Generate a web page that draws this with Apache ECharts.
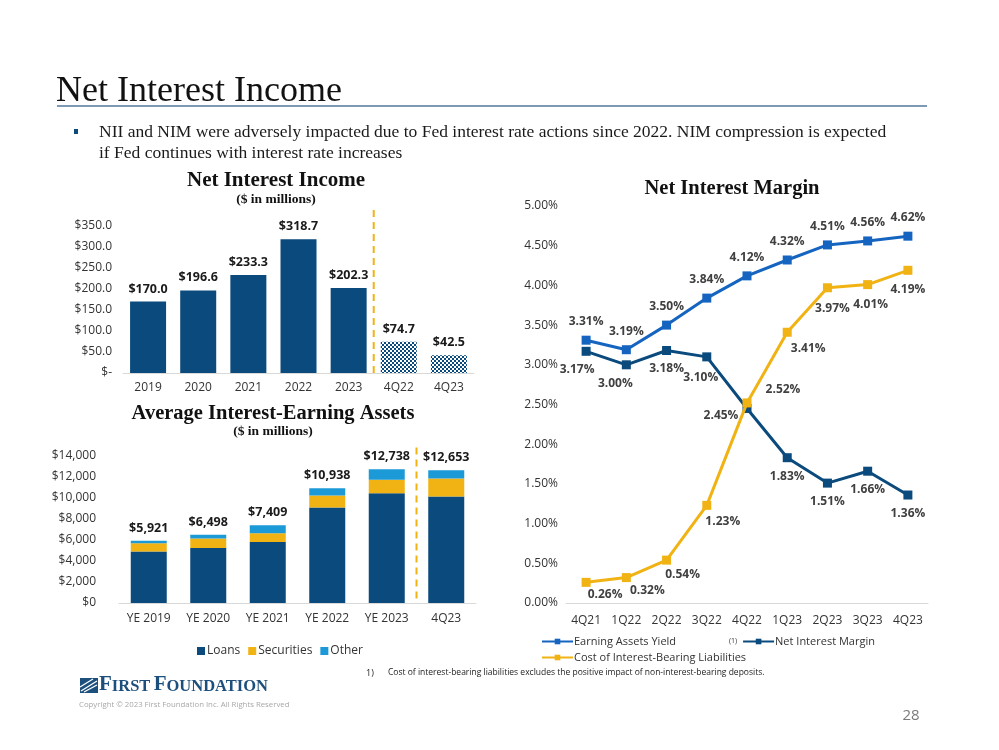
<!DOCTYPE html>
<html><head><meta charset="utf-8">
<script src="https://cdn.jsdelivr.net/npm/echarts@6/dist/echarts.min.js"></script>
<style>html,body{margin:0;padding:0;background:#fff}#c{width:999px;height:750px}</style>
</head><body><div id="c"></div>
<script>
// ---- data ----
const niiCategories = ['2019','2020','2021','2022','2023','4Q22','4Q23'];
const niiValues = [170.0, 196.6, 233.3, 318.7, 202.3, 74.7, 42.5];
const niiTicks = ['$-','$50.0','$100.0','$150.0','$200.0','$250.0','$300.0','$350.0'];

const aieaCategories = ['YE 2019','YE 2020','YE 2021','YE 2022','YE 2023','4Q23'];
const loans = [4900, 5250, 5800, 9100, 10450, 10150];
const securities = [800, 900, 850, 1150, 1300, 1700];
const other = [221, 348, 759, 688, 988, 803];
const aieaTotals = [5921, 6498, 7409, 10938, 12738, 12653];

const nimCategories = ['4Q21','1Q22','2Q22','3Q22','4Q22','1Q23','2Q23','3Q23','4Q23'];
const earningAssetsYield = [3.31, 3.19, 3.50, 3.84, 4.12, 4.32, 4.51, 4.56, 4.62];
const netInterestMargin = [3.17, 3.00, 3.18, 3.10, 2.45, 1.83, 1.51, 1.66, 1.36];
const costOfLiabilities = [0.26, 0.32, 0.54, 1.23, 2.52, 3.41, 3.97, 4.01, 4.19];

// ---- styles ----
const NAVY = '#0b4a7c', BLUE = '#1565c0', GOLD = '#f0b313', SKY = '#1c9ad8';
const SANS = '"Open Sans", "Noto Sans", sans-serif';
const SERIF = '"Liberation Serif", "DejaVu Serif", serif';
const LBL = '#404040';

const pat = document.createElement('canvas');
pat.width = 4; pat.height = 4;
const pc = pat.getContext('2d');
pc.fillStyle = NAVY; pc.fillRect(0,0,4,4);
pc.fillStyle = '#ffffff'; pc.fillRect(0,0,2,2); pc.fillRect(2,2,2,2);

const chart = echarts.init(document.getElementById('c'), null, {renderer:'canvas'});

const axisLabel = {fontFamily: SANS, fontSize: 12, color: '#333'};
const axisLine = {show: true, lineStyle: {color: '#d9d9d9', width: 1}};

const option = {
  animation: false,
  backgroundColor: '#fff',
  grid: [
    {left: 123, right: 525, top: 226, bottom: 377},
    {left: 119, right: 523, top: 456, bottom: 147},
    {left: 566, right: 71, top: 206, bottom: 147}
  ],
  xAxis: [
    {gridIndex: 0, type: 'category', data: niiCategories, axisTick: {show:false}, axisLine,
     axisLabel: {...axisLabel, margin: 9}},
    {gridIndex: 1, type: 'category', data: aieaCategories, axisTick: {show:false}, axisLine,
     axisLabel: {...axisLabel, margin: 10}},
    {gridIndex: 2, type: 'category', data: nimCategories, axisTick: {show:false}, axisLine,
     axisLabel: {...axisLabel, margin: 12}},
    {gridIndex: 0, type: 'value', min: -0.5, max: 6.5, show: false},
    {gridIndex: 1, type: 'value', min: -0.5, max: 5.5, show: false}
  ],
  yAxis: [
    {gridIndex: 0, type: 'value', min: 0, max: 350, interval: 50, splitLine: {show:false},
     axisLine: {show:false}, axisTick: {show:false},
     axisLabel: {...axisLabel, margin: 11, formatter: (v)=> niiTicks[Math.round(v/50)]}},
    {gridIndex: 1, type: 'value', min: 0, max: 14000, interval: 2000, splitLine: {show:false},
     axisLine: {show:false}, axisTick: {show:false},
     axisLabel: {...axisLabel, margin: 23, formatter: (v)=> '$' + v.toLocaleString('en-US')}},
    {gridIndex: 2, type: 'value', min: 0, max: 5, interval: 0.5, splitLine: {show:false},
     axisLine: {show:false}, axisTick: {show:false},
     axisLabel: {...axisLabel, fontSize: 12, margin: 8, formatter: (v)=> v.toFixed(2) + '%'}}
  ],
  legend: [
    {data: ['Loans','Securities','Other'], left: 192, top: 640, itemWidth: 8, itemHeight: 8, itemGap: 8,
     icon: 'rect', textStyle: {fontFamily: SANS, fontSize: 12, color: '#333', padding:[0,0,0,-3]}},
    {data: ['Earning Assets Yield', 'Net Interest Margin'], left: 536, top: 631, itemWidth: 31, itemHeight: 7,
     itemGap: 66, textStyle: {fontFamily: SANS, fontSize: 11, color: '#333', padding:[0,0,0,-4]}},
    {data: ['Cost of Interest-Bearing Liabilities'], left: 536, top: 647, itemWidth: 31, itemHeight: 7,
     textStyle: {fontFamily: SANS, fontSize: 11, color: '#333', padding:[0,0,0,-4]}}
  ],
  series: [
    {name: 'NII', type: 'bar', xAxisIndex: 0, yAxisIndex: 0, barWidth: 36,
     data: niiValues.map((v,i)=> i >= 5 ? {value: v, itemStyle: {color: {image: pat, repeat: 'repeat'}}} : v),
     itemStyle: {color: NAVY},
     label: {show: true, position: 'top', distance: 6, fontFamily: SANS, fontWeight: 'bold', fontSize: 12.5,
             color: '#1a1a1a', formatter: (p)=> '$' + p.value.toFixed(1)}},
    {name: 'niiDivider', type: 'line', xAxisIndex: 3, yAxisIndex: 0, data: [[4.5, 388],[4.5, -5]],
     symbol: 'none', silent: true, clip: false, lineStyle: {color: GOLD, width: 2, type: [7,5]}},
    {name: 'Loans', type: 'bar', stack: 'a', xAxisIndex: 1, yAxisIndex: 1, barWidth: 36, data: loans,
     itemStyle: {color: NAVY}},
    {name: 'Securities', type: 'bar', stack: 'a', xAxisIndex: 1, yAxisIndex: 1, barWidth: 36, data: securities,
     itemStyle: {color: GOLD}},
    {name: 'Other', type: 'bar', stack: 'a', xAxisIndex: 1, yAxisIndex: 1, barWidth: 36, data: other,
     itemStyle: {color: SKY},
     label: {show: true, position: 'top', distance: 6, fontFamily: SANS, fontWeight: 'bold', fontSize: 12.5,
             color: '#1a1a1a', formatter: (p)=> '$' + aieaTotals[p.dataIndex].toLocaleString('en-US')}},
    {name: 'aieaDivider', type: 'line', xAxisIndex: 4, yAxisIndex: 1, data: [[4.5, 14800],[4.5, 0]],
     symbol: 'none', silent: true, clip: false, lineStyle: {color: GOLD, width: 2, type: [7,5]}},
    {name: 'Earning Assets Yield', type: 'line', xAxisIndex: 2, yAxisIndex: 2, data: earningAssetsYield,
     symbol: 'rect', symbolSize: 9, color: BLUE, lineStyle: {width: 3, color: BLUE}, itemStyle: {color: BLUE},
     label: {show: true, position: 'top', distance: 8, fontFamily: SANS, fontWeight: 'bold', fontSize: 12,
             color: LBL, formatter: (p)=> p.value.toFixed(2) + '%'}},
    {name: 'Net Interest Margin', type: 'line', xAxisIndex: 2, yAxisIndex: 2, z: 3,
     data: netInterestMargin.map((v,i)=>{
       const off = [[-9,0],[-11,0],[0,0],[-6,2],[-26,-11],null,null,null,null][i];
       return off ? {value: v, label: {offset: off}} : v;
     }),
     symbol: 'rect', symbolSize: 9, color: NAVY, lineStyle: {width: 3, color: NAVY}, itemStyle: {color: NAVY},
     label: {show: true, position: 'bottom', distance: 8, fontFamily: SANS, fontWeight: 'bold', fontSize: 12,
             color: LBL, formatter: (p)=> p.value.toFixed(2) + '%'}},
    {name: 'Cost of Interest-Bearing Liabilities', type: 'line', xAxisIndex: 2, yAxisIndex: 2, z: 4,
     data: costOfLiabilities.map((v,i)=>{
       const off = [[19,-4],[21,-4],[16,-2],[16,0],[36,-30],[21,0],[5,4],[3,3],[0,3]][i];
       return {value: v, label: {offset: off}};
     }),
     symbol: 'rect', symbolSize: 9, color: GOLD, lineStyle: {width: 3, color: GOLD}, itemStyle: {color: GOLD},
     label: {show: true, position: 'bottom', distance: 6, fontFamily: SANS, fontWeight: 'bold', fontSize: 12,
             color: LBL, formatter: (p)=> p.value.toFixed(2) + '%'}}
  ],
  graphic: [
    {type: 'text', left: 56, top: 74, style: {text: 'Net Interest Income', font: '36px ' + SERIF, fill: '#111'}},
    {type: 'rect', shape: {x: 57, y: 105, width: 870, height: 2}, style: {fill: '#7d99b4'}},
    {type: 'rect', shape: {x: 74, y: 129, width: 4, height: 5}, style: {fill: '#0b4a7c'}},
    {type: 'text', left: 99, top: 123, style: {text: 'NII and NIM were adversely impacted due to Fed interest rate actions since 2022. NIM compression is expected', font: '17.5px ' + SERIF, fill: '#1a1a1a'}},
    {type: 'text', left: 99, top: 144, style: {text: 'if Fed continues with interest rate increases', font: '17.5px ' + SERIF, fill: '#1a1a1a'}},
    {type: 'text', x: 276, y: 181, style: {text: 'Net Interest Income', font: 'bold 21px ' + SERIF, fill: '#111', align: 'center', verticalAlign: 'middle'}},
    {type: 'text', x: 276, y: 200, style: {text: '($ in millions)', font: 'bold 13.5px ' + SERIF, fill: '#111', align: 'center', verticalAlign: 'middle'}},
    {type: 'text', x: 273, y: 414, style: {text: 'Average Interest-Earning Assets', font: 'bold 20.5px ' + SERIF, fill: '#111', align: 'center', verticalAlign: 'middle'}},
    {type: 'text', x: 273, y: 432, style: {text: '($ in millions)', font: 'bold 13.5px ' + SERIF, fill: '#111', align: 'center', verticalAlign: 'middle'}},
    {type: 'text', x: 732, y: 189, style: {text: 'Net Interest Margin', font: 'bold 20.5px ' + SERIF, fill: '#111', align: 'center', verticalAlign: 'middle'}},
    {type: 'text', x: 733, y: 641, style: {text: '(1)', font: '7px ' + SANS, fill: '#333', align: 'center', verticalAlign: 'middle'}},
    {type: 'text', x: 366, y: 673, style: {text: '1)', font: '9px ' + SANS, fill: '#222', verticalAlign: 'middle'}},
    {type: 'text', x: 388, y: 673, style: {text: 'Cost of interest-bearing liabilities excludes the positive impact of non-interest-bearing deposits.', font: '8.5px "Liberation Sans Narrow", ' + SANS, fill: '#222', verticalAlign: 'middle'}},
    // logo
    {type: 'rect', shape: {x: 80, y: 678, width: 18, height: 15}, style: {fill: '#1d4f7c'}},
    {type: 'polyline', shape: {points: [[81,691],[97,681]]}, style: {stroke: '#fff', lineWidth: 1.3}},
    {type: 'polyline', shape: {points: [[84,692],[97,685]]}, style: {stroke: '#fff', lineWidth: 1.3}},
    {type: 'polyline', shape: {points: [[80,687],[93,679]]}, style: {stroke: '#fff', lineWidth: 1.3}},
    {type: 'text', left: 99, top: 674, style: {text: '{a|F}{b|IRST} {a|F}{b|OUNDATION}',
      rich: {a: {font: 'bold 21px ' + SERIF, fill: '#1d4f7c', verticalAlign: 'bottom'},
             b: {font: 'bold 16.5px ' + SERIF, fill: '#1d4f7c', verticalAlign: 'bottom'}}}},
    {type: 'text', left: 79, top: 701, style: {text: 'Copyright \u00a9 2023 First Foundation Inc. All Rights Reserved', font: '7.8px "Liberation Sans Narrow", ' + SANS, fill: '#a8a8a8'}},
    {type: 'text', x: 911, y: 716, style: {text: '28', font: '15px ' + SANS, fill: '#7a7a7a', align: 'center', verticalAlign: 'middle'}}
  ]
};
chart.setOption(option);
</script>
</body></html>
